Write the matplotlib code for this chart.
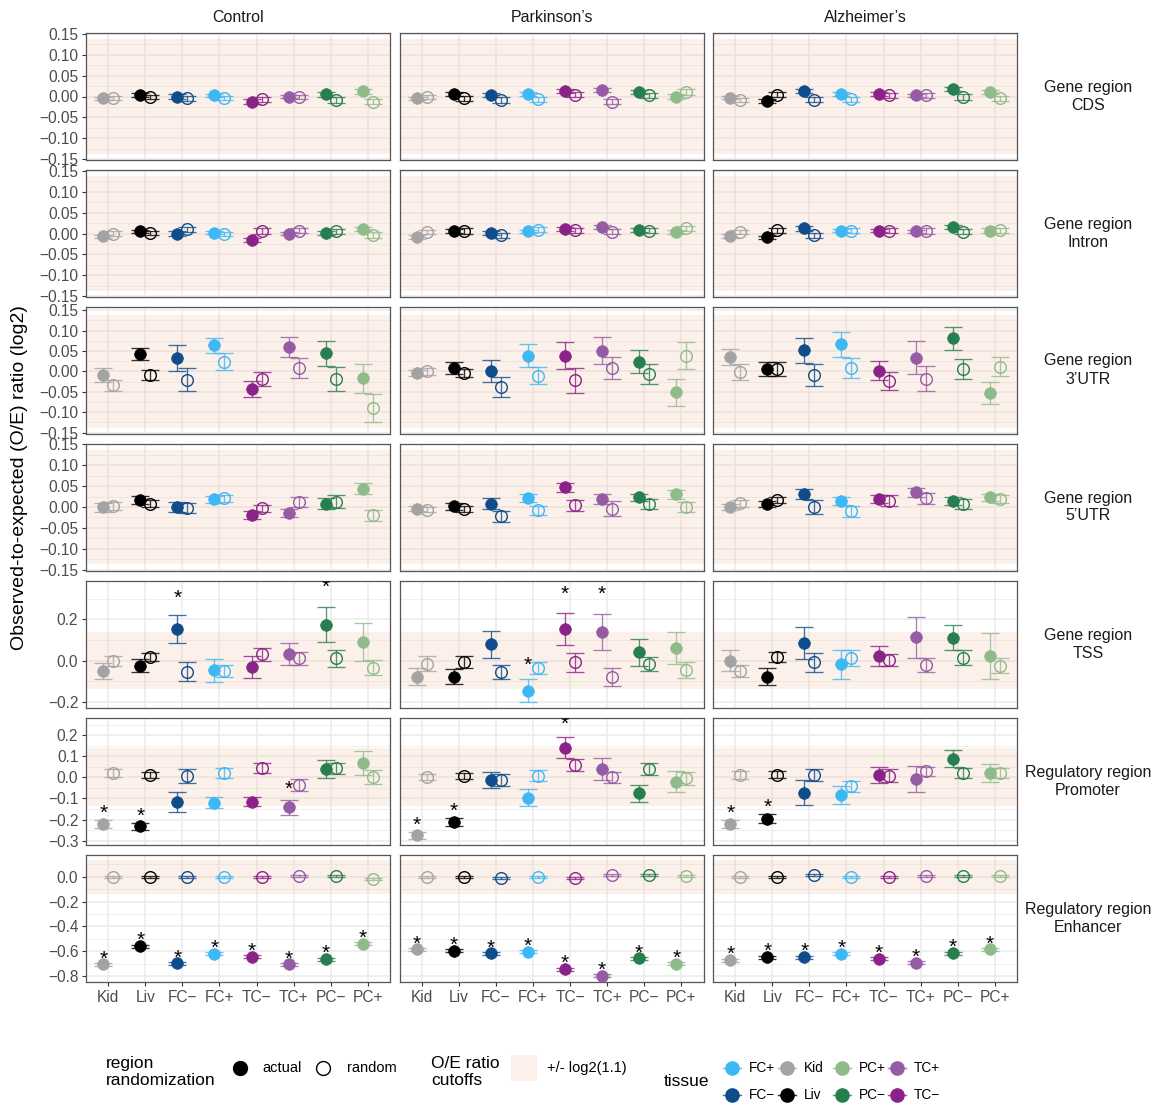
import matplotlib
matplotlib.use('Agg')
import matplotlib.pyplot as plt
from matplotlib.ticker import FixedLocator, FuncFormatter
from matplotlib.patches import Rectangle
import numpy as np

plt.rcParams['font.family'] = ['Liberation Sans', 'DejaVu Sans']

# ---------------- data ----------------
tissues = ['Kid', 'Liv', 'FC\u2212', 'FC+', 'TC\u2212', 'TC+', 'PC\u2212', 'PC+']
tissue_colors = ['#A3A3A3', '#000000', '#0E4C8B', '#3DB8F5', '#8A2387', '#955BA5', '#277E4E', '#8FBB8B']
conditions = ['Control', 'Parkinson\u2019s', 'Alzheimer\u2019s']
row_labels = ['Gene region\nCDS', 'Gene region\nIntron', 'Gene region\n3\u2019UTR', 'Gene region\n5\u2019UTR',
              'Gene region\nTSS', 'Regulatory region\nPromoter', 'Regulatory region\nEnhancer']
C, P, A = conditions

cds_actual = {C: [-0.004, 0.004, 0.000, 0.003, -0.012, 0.000, 0.005, 0.012],
              P: [-0.004, 0.006, 0.004, 0.006, 0.014, 0.016, 0.011, 0.000],
              A: [-0.003, -0.010, 0.013, 0.006, 0.006, 0.003, 0.017, 0.010]}
cds_actual_err = {C: [0.004, 0.004, 0.005, 0.004, 0.005, 0.004, 0.006, 0.006],
                  P: [0.004, 0.005, 0.005, 0.004, 0.005, 0.005, 0.005, 0.005],
                  A: [0.004, 0.005, 0.005, 0.004, 0.004, 0.004, 0.005, 0.005]}
cds_random = {C: [-0.004, -0.002, -0.004, -0.004, -0.006, -0.002, -0.009, -0.012],
              P: [-0.002, -0.004, -0.008, -0.007, 0.004, -0.012, 0.003, 0.010],
              A: [-0.008, 0.004, -0.008, -0.006, 0.003, 0.003, -0.002, -0.004]}
cds_random_err = {C: [0.005, 0.005, 0.006, 0.005, 0.006, 0.005, 0.007, 0.007],
                  P: [0.005, 0.006, 0.007, 0.006, 0.006, 0.007, 0.006, 0.007],
                  A: [0.005, 0.006, 0.006, 0.006, 0.006, 0.006, 0.007, 0.006]}
cds_stars = {C: [], P: [], A: []}

intron_actual = {C: [-0.007, 0.005, 0.000, 0.002, -0.016, 0.000, 0.002, 0.010],
                 P: [-0.008, 0.006, 0.002, 0.005, 0.011, 0.016, 0.009, 0.003],
                 A: [-0.006, -0.009, 0.012, 0.007, 0.007, 0.005, 0.015, 0.007]}
intron_actual_err = {C: [0.004, 0.004, 0.005, 0.004, 0.005, 0.004, 0.005, 0.005],
                     P: [0.004, 0.005, 0.005, 0.004, 0.005, 0.005, 0.005, 0.005],
                     A: [0.004, 0.004, 0.005, 0.004, 0.004, 0.004, 0.005, 0.005]}
intron_random = {C: [0.000, 0.001, 0.010, -0.002, 0.006, 0.007, 0.005, -0.004],
                 P: [0.004, 0.006, -0.004, 0.009, 0.008, 0.004, 0.007, 0.012],
                 A: [0.004, 0.008, -0.004, 0.007, 0.007, 0.006, 0.004, 0.008]}
intron_random_err = {C: [0.005, 0.005, 0.006, 0.005, 0.006, 0.005, 0.006, 0.007],
                     P: [0.005, 0.006, 0.006, 0.006, 0.006, 0.006, 0.006, 0.007],
                     A: [0.005, 0.006, 0.006, 0.006, 0.006, 0.006, 0.006, 0.006]}
intron_stars = {C: [], P: [], A: []}

utr3_actual = {C: [-0.009, 0.042, 0.032, 0.064, -0.043, 0.060, 0.044, -0.017],
               P: [-0.004, 0.008, 0.000, 0.039, 0.039, 0.051, 0.024, -0.051],
               A: [0.036, 0.006, 0.052, 0.066, 0.002, 0.034, 0.081, -0.052]}
utr3_actual_err = {C: [0.017, 0.015, 0.032, 0.019, 0.020, 0.024, 0.030, 0.035],
                   P: [0.008, 0.015, 0.027, 0.028, 0.034, 0.034, 0.028, 0.033],
                   A: [0.020, 0.018, 0.031, 0.031, 0.024, 0.041, 0.029, 0.027]}
utr3_random = {C: [-0.034, -0.009, -0.020, 0.024, -0.019, 0.008, -0.019, -0.089],
               P: [0.000, -0.004, -0.038, -0.010, -0.022, 0.008, -0.006, 0.039],
               A: [-0.002, 0.006, -0.008, 0.008, -0.024, -0.018, 0.006, 0.012]}
utr3_random_err = {C: [0.013, 0.012, 0.028, 0.020, 0.017, 0.024, 0.030, 0.034],
                   P: [0.008, 0.010, 0.025, 0.020, 0.031, 0.027, 0.025, 0.033],
                   A: [0.019, 0.018, 0.027, 0.024, 0.022, 0.031, 0.025, 0.024]}
utr3_stars = {C: [], P: [], A: []}

utr5_actual = {C: [-0.001, 0.017, 0.000, 0.018, -0.019, -0.015, 0.008, 0.044],
               P: [-0.004, 0.002, 0.008, 0.021, 0.047, 0.019, 0.023, 0.030],
               A: [0.000, 0.007, 0.031, 0.015, 0.019, 0.035, 0.015, 0.023]}
utr5_actual_err = {C: [0.010, 0.009, 0.012, 0.008, 0.009, 0.010, 0.013, 0.013],
                   P: [0.006, 0.008, 0.013, 0.010, 0.010, 0.013, 0.008, 0.010],
                   A: [0.006, 0.008, 0.012, 0.010, 0.010, 0.010, 0.010, 0.008]}
utr5_random = {C: [0.002, 0.008, -0.003, 0.021, -0.003, 0.013, 0.013, -0.020],
               P: [-0.007, -0.005, -0.022, -0.008, 0.004, -0.004, 0.008, 0.000],
               A: [0.009, 0.017, 0.000, -0.010, 0.015, 0.021, 0.008, 0.019]}
utr5_random_err = {C: [0.010, 0.008, 0.012, 0.008, 0.008, 0.012, 0.016, 0.013],
                   P: [0.006, 0.008, 0.013, 0.010, 0.013, 0.018, 0.012, 0.012],
                   A: [0.008, 0.008, 0.017, 0.013, 0.013, 0.013, 0.012, 0.010]}
utr5_stars = {C: [], P: [], A: []}

tss_actual = {C: [-0.050, -0.025, 0.153, -0.047, -0.030, 0.032, 0.173, 0.089],
              P: [-0.077, -0.077, 0.079, -0.145, 0.153, 0.137, 0.040, 0.060],
              A: [0.000, -0.077, 0.087, -0.018, 0.024, 0.113, 0.111, 0.023]}
tss_actual_err = {C: [0.038, 0.031, 0.068, 0.056, 0.052, 0.055, 0.085, 0.093],
                  P: [0.042, 0.035, 0.065, 0.056, 0.078, 0.087, 0.066, 0.077],
                  A: [0.051, 0.039, 0.077, 0.071, 0.048, 0.100, 0.061, 0.110]}
tss_random = {C: [0.000, 0.018, -0.053, -0.050, 0.030, 0.011, 0.011, -0.034],
              P: [-0.016, -0.005, -0.053, -0.037, -0.008, -0.081, -0.018, -0.045],
              A: [-0.050, 0.016, -0.008, 0.011, 0.003, -0.021, 0.015, -0.024]}
tss_random_err = {C: [0.024, 0.020, 0.044, 0.028, 0.030, 0.032, 0.041, 0.037],
                  P: [0.036, 0.029, 0.034, 0.029, 0.045, 0.043, 0.034, 0.040],
                  A: [0.027, 0.025, 0.046, 0.038, 0.031, 0.036, 0.036, 0.035]}
tss_stars = {C: ['FC\u2212', 'PC\u2212'], P: ['FC+', 'TC\u2212', 'TC+'], A: []}

prom_actual = {C: [-0.220, -0.232, -0.117, -0.120, -0.116, -0.142, 0.040, 0.069],
               P: [-0.275, -0.212, -0.011, -0.096, 0.141, 0.040, -0.075, -0.021],
               A: [-0.222, -0.196, -0.072, -0.083, 0.013, -0.008, 0.088, 0.021]}
prom_actual_err = {C: [0.020, 0.017, 0.046, 0.026, 0.022, 0.036, 0.044, 0.057],
                   P: [0.018, 0.020, 0.038, 0.040, 0.049, 0.052, 0.041, 0.050],
                   A: [0.020, 0.020, 0.059, 0.042, 0.038, 0.061, 0.040, 0.042]}
prom_random = {C: [0.021, 0.012, 0.008, 0.021, 0.043, -0.037, 0.043, 0.003],
               P: [0.003, 0.008, -0.013, 0.008, 0.059, 0.000, 0.040, -0.005],
               A: [0.011, 0.013, 0.011, -0.043, 0.008, 0.029, 0.021, 0.021]}
prom_random_err = {C: [0.020, 0.015, 0.034, 0.024, 0.024, 0.028, 0.027, 0.032],
                   P: [0.015, 0.015, 0.030, 0.027, 0.030, 0.027, 0.027, 0.032],
                   A: [0.017, 0.017, 0.028, 0.028, 0.030, 0.022, 0.025, 0.025]}
prom_stars = {C: ['Kid', 'Liv', 'TC+'], P: ['Kid', 'Liv', 'TC\u2212'], A: ['Kid', 'Liv']}

enh_actual = {C: [-0.706, -0.560, -0.698, -0.620, -0.645, -0.706, -0.663, -0.540],
              P: [-0.585, -0.596, -0.617, -0.604, -0.744, -0.797, -0.658, -0.700],
              A: [-0.671, -0.648, -0.648, -0.622, -0.660, -0.693, -0.615, -0.585]}
enh_actual_err = {C: [0.012] * 8, P: [0.012] * 8, A: [0.012] * 8}
enh_random = {C: [0.000, 0.000, -0.005, -0.005, 0.000, 0.004, 0.004, -0.020],
              P: [0.000, 0.000, -0.012, 0.000, -0.012, 0.012, 0.010, 0.004],
              A: [0.000, 0.000, 0.012, -0.002, 0.000, 0.008, 0.004, 0.004]}
enh_random_err = {C: [0.008] * 8, P: [0.008] * 8, A: [0.008] * 8}
enh_stars = {C: list(tissues), P: list(tissues), A: list(tissues)}

rows = [
    (cds_actual, cds_actual_err, cds_random, cds_random_err, cds_stars),
    (intron_actual, intron_actual_err, intron_random, intron_random_err, intron_stars),
    (utr3_actual, utr3_actual_err, utr3_random, utr3_random_err, utr3_stars),
    (utr5_actual, utr5_actual_err, utr5_random, utr5_random_err, utr5_stars),
    (tss_actual, tss_actual_err, tss_random, tss_random_err, tss_stars),
    (prom_actual, prom_actual_err, prom_random, prom_random_err, prom_stars),
    (enh_actual, enh_actual_err, enh_random, enh_random_err, enh_stars),
]

cutoff = np.log2(1.1)

# ---------------- layout / style ----------------
W, H = 1158, 1104
fig = plt.figure(figsize=(W / 100, H / 100), dpi=100)

col_left = [86, 399.5, 713]
panel_w = 304
row_top = [33, 170, 306.5, 443.5, 581, 718, 855]
panel_h = 127

ylims = [(-0.152, 0.152), (-0.152, 0.152), (-0.152, 0.159), (-0.152, 0.152),
         (-0.229, 0.385), (-0.321, 0.282), (-0.848, 0.175)]
yticks = [np.round(np.arange(-0.15, 0.151, 0.05), 3)] * 4 + \
         [np.array([-0.2, 0.0, 0.2]), np.round(np.arange(-0.3, 0.201, 0.1), 3),
          np.round(np.arange(-0.8, 0.001, 0.2), 3)]
ydec = [2, 2, 2, 2, 1, 1, 1]

band_color = '#F5C6AE'
band_alpha = 0.25
grid_color = '#EBEBEB'
dodge = 0.135
ms = 8.4
cap = 6.6
elw = 0.95
ealpha = 0.8


def fmt_factory(d):
    def f(v, p):
        if abs(v) < 1e-9:
            v = 0.0
        return f'{v:.{d}f}'.replace('-', '\u2212')
    return f


x = np.arange(1, len(tissues) + 1)

for r, (act, act_e, rnd, rnd_e, stars) in enumerate(rows):
    for c, cond in enumerate(conditions):
        left = col_left[c] / W
        bottom = 1 - (row_top[r] + panel_h) / H
        ax = fig.add_axes([left, bottom, panel_w / W, panel_h / H])
        ax.set_xlim(0.4, len(tissues) + 0.6)
        ax.set_ylim(*ylims[r])
        ticks = yticks[r]
        step = ticks[1] - ticks[0]
        minors = np.arange(ticks[0] - step / 2, ticks[-1] + step, step)
        ax.yaxis.set_major_locator(FixedLocator(ticks))
        ax.yaxis.set_minor_locator(FixedLocator(minors))
        ax.xaxis.set_major_locator(FixedLocator(x))
        ax.set_axisbelow(True)
        ax.grid(which='major', color=grid_color, lw=1.1)
        ax.grid(which='minor', axis='y', color=grid_color, lw=0.55)
        ax.tick_params(which='minor', length=0)
        ax.axhspan(-cutoff, cutoff, color=band_color, alpha=band_alpha, lw=0, zorder=0.9)
        for sp in ax.spines.values():
            sp.set_color('#555555')
            sp.set_linewidth(0.9)
        ax.tick_params(which='major', color='#333333', length=2.9, width=0.8,
                       labelcolor='#4D4D4D', labelsize=11.2, pad=2.6)
        if c == 0:
            ax.yaxis.set_major_formatter(FuncFormatter(fmt_factory(ydec[r])))
        else:
            ax.tick_params(axis='y', which='both', left=False, labelleft=False)
        if r == len(rows) - 1:
            ax.set_xticklabels(tissues)
        else:
            ax.tick_params(axis='x', which='both', bottom=False, labelbottom=False)

        a_vals, a_err = act[cond], act_e[cond]
        r_vals, r_err = rnd[cond], rnd_e[cond]
        for i, col in enumerate(tissue_colors):
            xa = x[i] - dodge
            xr = x[i] + dodge
            ax.errorbar(xa, a_vals[i], yerr=a_err[i], fmt='none', ecolor=col, alpha=ealpha,
                        elinewidth=elw, capsize=cap, capthick=elw, zorder=2)
            ax.plot(xa, a_vals[i], 'o', ms=ms, color=col, mec=col, mew=0.5, zorder=3)
            ax.errorbar(xr, r_vals[i], yerr=r_err[i], fmt='none', ecolor=col, alpha=ealpha,
                        elinewidth=elw, capsize=cap, capthick=elw, zorder=4)
            ax.plot(xr, r_vals[i], 'o', ms=ms, mfc='none', mec=col, mew=1.0, zorder=5)
        for t in stars[cond]:
            i = tissues.index(t)
            ax.annotate('*', xy=(x[i] - dodge, a_vals[i] + 2 * a_err[i]),
                        xytext=(0, -2.2), textcoords='offset points',
                        ha='center', va='baseline', fontsize=15, color='black',
                        zorder=6, annotation_clip=False, clip_on=True)

        if r == 0:
            fig.text((col_left[c] + panel_w / 2) / W, 1 - 18 / H, cond,
                     ha='center', va='center', fontsize=11.5, color='#1A1A1A')
    fig.text(1088 / W, 1 - (row_top[r] + panel_h / 2) / H, row_labels[r],
             ha='center', va='center', fontsize=11.5, color='#1A1A1A', linespacing=1.25)

fig.text(20 / W, 1 - 478 / H, 'Observed-to-expected (O/E) ratio (log2)', rotation=90,
         ha='center', va='center', fontsize=14, color='black')

# ---------------- legend ----------------
lax = fig.add_axes([0, 0, 1, 1])
lax.set_xlim(0, W)
lax.set_ylim(H, 0)
lax.axis('off')
lax.patch.set_alpha(0)

lax.text(106, 1072, 'region\nrandomization', ha='left', va='center', fontsize=12.5, linespacing=1.1)
lax.plot([240], [1068], 'o', ms=10, color='black')
lax.text(262, 1068, 'actual', ha='left', va='center', fontsize=10.5)
lax.plot([323], [1068], 'o', ms=10, mfc='none', mec='black', mew=1.0)
lax.text(347, 1068, 'random', ha='left', va='center', fontsize=10.5)

lax.text(431, 1072, 'O/E ratio\ncutoffs', ha='left', va='center', fontsize=12.5, linespacing=1.1)
lax.add_patch(Rectangle((511, 1055), 26, 26, facecolor=band_color, alpha=band_alpha, lw=0))
lax.text(547, 1068, '+/- log2(1.1)', ha='left', va='center', fontsize=10.5)

lax.text(664, 1082, 'tissue', ha='left', va='center', fontsize=12.5)
legend_order = ['FC+', 'FC\u2212', 'Kid', 'Liv', 'PC+', 'PC\u2212', 'TC+', 'TC\u2212']
key_x = [732, 787, 842, 897]
key_y = [1068, 1095]
for k, name in enumerate(legend_order):
    col = tissue_colors[tissues.index(name)]
    kx = key_x[k // 2]
    ky = key_y[k % 2]
    lax.plot([kx - 9, kx + 9], [ky, ky], color=col, lw=1.0, alpha=ealpha)
    lax.plot([kx], [ky], 'o', ms=9.5, color=col)
    lax.text(kx + 17, ky, name, ha='left', va='center', fontsize=9.8)

fig.savefig('out.png', dpi=100)
